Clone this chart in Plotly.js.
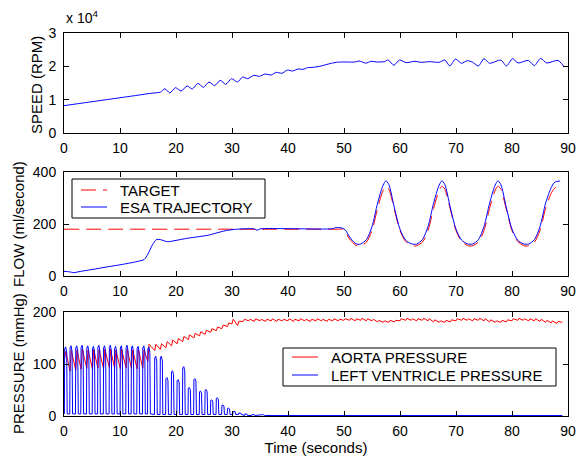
<!DOCTYPE html>
<html><head><meta charset="utf-8">
<script src="https://cdn.plot.ly/plotly-3.0.1.min.js"></script>
<style>html,body{margin:0;padding:0;background:#fff}#chart{width:576px;height:461px}</style>
</head><body><div id="chart"></div>
<script>
// ---- data ----
const timeTicks = [0,10,20,30,40,50,60,70,80,90];

// Panel 1: pump speed (RPM)
const speedT = [0,4,8,12,15.5,17.2,18.0,18.9,19.9,20.9,22.0,22.9,23.9,24.9,25.9,26.9,27.9,28.9,29.9,31.0,31.9,32.8,33.9,34.9,35.9,37.0,37.9,38.9,39.9,40.8,41.8,42.7,43.5,44.5,45.9,47.0,48.0,48.8,50.0,52.0,52.7,53.9,54.8,56.0,57.2,57.9,58.9,59.9,61.1,62.6,63.8,65.3,67.0,68.0,68.9,69.9,71.0,72.0,72.9,74.0,75.0,76.0,78.0,79.0,80.1,81.1,82.9,84.0,85.1,86.2,88.2,89.2];
const speedRPM = [8200,9150,10100,11050,11900,12250,13300,12000,13600,12600,14100,13200,14900,13700,15300,14200,15800,14600,16300,15300,16800,16300,17300,17000,17700,17400,18200,17900,18900,18600,19200,19100,19600,19700,20100,20600,21000,21250,21300,21300,21600,20950,21500,21300,21400,21900,20300,21900,21100,21500,21200,21400,21200,21900,20100,22200,20900,21700,21300,20100,22300,20900,21900,20100,22300,21000,21800,20200,22400,21000,21800,20100];
const speedTickVals = [0,10000,20000,30000];
const speedTickText = ['0','1','2','3'];

// Panel 2: flow (ml/second)
const targetT = [0,49,49.8,50.3,51,52,52.5,53,54,55,56,57,57.5,58,59,60,61,62,62.5,63,64,65,66,67,67.5,68,69,70,71,72,72.5,73,74,75,76,77,77.5,78,79,80,81,82,82.5,83,84,85,86,87,87.5,88,88.6];
const targetFlow = [180,180,180,168,142,120,116,117,130,175,260,330,345,334,255,175,133,118,115,117,130,175,260,330,345,334,255,175,133,118,115,117,130,175,260,330,345,334,255,175,133,118,115,117,130,175,260,318,335,342,343];
const esaT = [0,1,1.7,3,5,8,10,12,13.5,14.3,15,15.8,16.5,17.2,18.5,20,22,24,26,27,28,29,30,31,33,34,34.5,35,40,48,48.5,49.5,50.2,51,52,52.5,53,54,55,56,57,57.5,58,59,60,61,62,62.5,63,64,65,66,67,67.5,68,69,70,71,72,72.5,73,74,75,76,77,77.5,78,79,80,81,82,82.5,83,84,85,86,87,87.5,88,88.6];
const esaFlow = [18,16,13,18,25,36,43,51,58,63,85,120,140,140,132,137,145,151,158,164,170,175,178,180,182,181,176,181,182,182,186,185,178,150,126,122,123,140,190,280,350,366,352,262,180,138,124,122,123,140,190,280,350,366,352,262,180,138,124,122,123,140,190,280,350,366,352,262,180,138,124,122,123,140,190,280,340,358,364,365];

// Panel 3: pressures (mmHg), per heart beat
const lvBeatT = [0.12,1.08,2.1,3.05,4.07,5.09,6.05,7.07,8.1,9.04,10.06,11.08,12.04,13.05,14.07,14.97,16.2,17.2,18.2,19.2,20.2,21.2,22.2,23.2,24.2,25.2,26.2,27.2,28.2,29.2,30.2,31.2,32.3,33.6,35.4];
const lvPeak = [133,135,135,136,135,134,136,135,136,134,135,136,135,134,135,133,115,115,74,87,70,95,55,72,48,51,31,35,21,15,9,6,4,3,2.5];
const lvBase = [4,4,4,4,4,4,4,4,4,4,4,4,4,4,4,4,3,3,3,3,3,3,3,3,3,3,3,3,3,3,3,3,1,1,1];
const lvEnd = {t: 89, p: 1};

const aoBeatT = [0.12,1.08,2.1,3.05,4.07,5.09,6.05,7.07,8.1,9.04,10.06,11.08,12.04,13.05,14.07,14.97,
 16.2,17.2,18.2,19.2,20.2,21.2,22.2,23.2,24.2,25.2,26.2,27.2,28.2,29.2,30.0,31.0,
 32,33,34,35,36,37,38,39,40,41,42,43,44,45,46,47,48,49,50,51,52,53,54,55,56,57,58,59,60,
 61,62,63,64,65,66,67,68,69,70,71,72,73,74,75,76,77,78,79,80,81,82,83,84,85,86,87,88];
const aoTrough = [112,86,88,90,92,90,92,91,93,92,91,93,92,91,92,105,
 126,128,131,135,139,143,147,150,154,157,161,164,168,172,177,174,
 182,183,182,183,182,183,182,183,183,182,
 183,183,182,183,183,182,183,183,184,184,
 183,184,183,183,181,180,180,181,183,184,
 184,183,184,183,181,180,180,181,183,184,
 184,183,184,183,181,180,180,181,183,184,
 184,183,183,182,180,179,178];
const aoPeak = [124,126,127,128,127,128,127,128,128,127,128,128,127,128,127,138,
 138,139,143,146,149,153,156,159,162,165,168,171,175,179,186,182,
 186,186,187,186,186,187,186,186,187,186,
 187,186,186,187,186,186,187,186,187,188,
 187,188,187,186,184,183,184,184,187,188,
 187,187,188,187,185,183,184,185,187,188,
 187,187,188,187,185,183,184,185,187,188,
 187,187,187,186,184,183,182];
const aoEnd = {t: 89, p: 180};

// ---- build beat waveforms from the beat tables ----
const lvX = [], lvY = [];
lvBeatT.forEach((tb, i) => {
  const b = lvBase[i], p = lvPeak[i];
  lvX.push(tb - 0.05, tb, tb + 0.18, tb + 0.36, tb + 0.45);
  lvY.push(b, p * 0.97, p, p * 0.92, b);
});
lvX.push(lvEnd.t); lvY.push(lvEnd.p);

const aoX = [], aoY = [];
aoBeatT.forEach((tb, i) => {
  aoX.push(tb, tb + 0.22);
  aoY.push(aoTrough[i], aoPeak[i]);
});
aoX.push(aoEnd.t); aoY.push(aoEnd.p);

const RED = 'rgb(255,0,0)', BLUE = 'rgb(0,0,255)';
const FONT = 'Liberation Sans, Arial, Helvetica, sans-serif';

const traces = [
  {x: speedT, y: speedRPM, xaxis: 'x', yaxis: 'y', mode: 'lines', name: 'SPEED',
   line: {color: BLUE, width: 1, shape: 'spline', smoothing: 0.6}, showlegend: false},
  {x: targetT, y: targetFlow, xaxis: 'x2', yaxis: 'y2', mode: 'lines', name: 'TARGET',
   line: {color: RED, width: 1, dash: '15px,7px', shape: 'spline', smoothing: 0.8}, showlegend: false},
  {x: esaT, y: esaFlow, xaxis: 'x2', yaxis: 'y2', mode: 'lines', name: 'ESA TRAJECTORY',
   line: {color: BLUE, width: 1, shape: 'spline', smoothing: 0.8}, showlegend: false},
  {x: aoX, y: aoY, xaxis: 'x3', yaxis: 'y3', mode: 'lines', name: 'AORTA PRESSURE',
   line: {color: RED, width: 1}, showlegend: false},
  {x: lvX, y: lvY, xaxis: 'x3', yaxis: 'y3', mode: 'lines', name: 'LEFT VENTRICLE PRESSURE',
   line: {color: BLUE, width: 1}, showlegend: false}
];

const ax = {
  showline: true, linecolor: '#000', linewidth: 1, mirror: 'ticks',
  ticks: 'inside', ticklen: 5, tickcolor: '#000', tickwidth: 1,
  showgrid: false, zeroline: false, fixedrange: true,
  tickfont: {family: FONT, size: 14, color: '#000'}
};
const xax = Object.assign({}, ax, {range: [0, 90], tickvals: timeTicks, ticklabelstandoff: 2});
const yax = Object.assign({}, ax, {ticklabelstandoff: 4});

// paper coords helpers
const L = 64, T = 33, W = 504, H = 383;
const px = v => (v - L) / W;
const py = v => (T + H - v) / H;
const seg = (x0, x1, y) => 'M' + px(x0) + ',' + py(y) + 'L' + px(x1) + ',' + py(y);

const layout = {
  width: 576, height: 461,
  margin: {l: L, r: 576 - L - W, t: T, b: 461 - T - H, pad: 0},
  paper_bgcolor: '#fff', plot_bgcolor: '#fff', showlegend: false,
  font: {family: FONT, size: 14, color: '#000'},
  xaxis: Object.assign({}, xax, {domain: [0, 1], anchor: 'y'}),
  yaxis: Object.assign({}, yax, {domain: [py(133), 1], anchor: 'x', range: [0, 30000],
    tickvals: speedTickVals, ticktext: speedTickText}),
  xaxis2: Object.assign({}, xax, {domain: [0, 1], anchor: 'y2'}),
  yaxis2: Object.assign({}, yax, {domain: [py(276), py(172)], anchor: 'x2', range: [0, 400],
    tickvals: [0, 200, 400]}),
  xaxis3: Object.assign({}, xax, {domain: [0, 1], anchor: 'y3',
    title: {text: 'Time (seconds)', font: {family: FONT, size: 15, color: '#000'}, standoff: 0}}),
  yaxis3: Object.assign({}, yax, {domain: [0, py(312)], anchor: 'x3', range: [0, 200],
    tickvals: [0, 100, 200]}),
  shapes: [
    {type: 'rect', xref: 'paper', yref: 'paper', x0: px(72), x1: px(265), y0: py(218), y1: py(179),
     fillcolor: 'rgb(255,255,255)', line: {color: 'rgb(0,0,0)', width: 1}, layer: 'above'},
    {type: 'rect', xref: 'paper', yref: 'paper', x0: px(283), x1: px(556), y0: py(386), y1: py(348),
     fillcolor: 'rgb(255,255,255)', line: {color: 'rgb(0,0,0)', width: 1}, layer: 'above'},
    {type: 'path', xref: 'paper', yref: 'paper', path: seg(81, 107, 190),
     line: {color: RED, width: 1, dash: '15px,7px'}, layer: 'above'},
    {type: 'path', xref: 'paper', yref: 'paper', path: seg(81, 107, 207),
     line: {color: BLUE, width: 1, dash: 'solid'}, layer: 'above'},
    {type: 'path', xref: 'paper', yref: 'paper', path: seg(292, 318, 357),
     line: {color: RED, width: 1, dash: 'solid'}, layer: 'above'},
    {type: 'path', xref: 'paper', yref: 'paper', path: seg(292, 318, 375),
     line: {color: BLUE, width: 1, dash: 'solid'}, layer: 'above'}
  ],
  annotations: [
    {text: 'x 10<sup>4</sup>', xref: 'paper', yref: 'paper', x: 0, y: py(28), xanchor: 'left', yanchor: 'bottom',
     showarrow: false, font: {family: FONT, size: 14, color: '#000'}},
    {text: 'SPEED (RPM)', xref: 'paper', yref: 'paper', x: px(36), y: py(85), textangle: -90,
     xanchor: 'center', yanchor: 'middle', showarrow: false, font: {family: FONT, size: 15, color: '#000'}},
    {text: 'FLOW (ml/second)', xref: 'paper', yref: 'paper', x: px(18), y: py(224), textangle: -90,
     xanchor: 'center', yanchor: 'middle', showarrow: false, font: {family: FONT, size: 15, color: '#000'}},
    {text: 'PRESSURE (mmHg)', xref: 'paper', yref: 'paper', x: px(18), y: py(364), textangle: -90,
     xanchor: 'center', yanchor: 'middle', showarrow: false, font: {family: FONT, size: 15, color: '#000'}},
    {text: 'TARGET', xref: 'paper', yref: 'paper', x: px(118), y: py(190), xanchor: 'left', yanchor: 'middle',
     showarrow: false, font: {family: FONT, size: 15, color: '#000'}},
    {text: 'ESA TRAJECTORY', xref: 'paper', yref: 'paper', x: px(118), y: py(207), xanchor: 'left', yanchor: 'middle',
     showarrow: false, font: {family: FONT, size: 15, color: '#000'}},
    {text: 'AORTA PRESSURE', xref: 'paper', yref: 'paper', x: px(329), y: py(357), xanchor: 'left', yanchor: 'middle',
     showarrow: false, font: {family: FONT, size: 15, color: '#000'}},
    {text: 'LEFT VENTRICLE PRESSURE', xref: 'paper', yref: 'paper', x: px(329), y: py(375), xanchor: 'left', yanchor: 'middle',
     showarrow: false, font: {family: FONT, size: 15, color: '#000'}}
  ]
};

Plotly.newPlot('chart', traces, layout, {staticPlot: true, displayModeBar: false});
</script>
</body></html>
